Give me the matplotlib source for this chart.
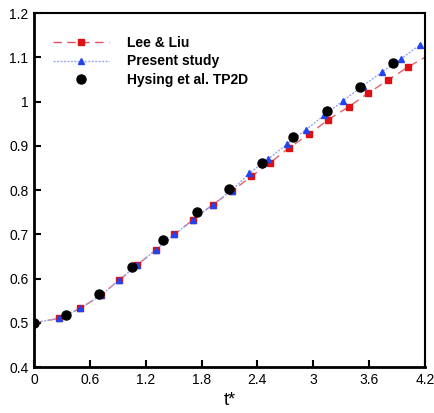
import matplotlib
matplotlib.use("Agg")
import matplotlib.pyplot as plt
from matplotlib.ticker import FuncFormatter

plt.rcParams['font.family'] = ['Liberation Sans', 'DejaVu Sans']

# Lee & Liu (line + square markers)
lee_line_t = [0.0, 0.265, 0.50, 0.716, 0.917, 1.11, 1.31, 1.507, 1.711, 1.919, 2.123,
              2.334, 2.54, 2.742, 2.954, 3.161, 3.38, 3.59, 3.80, 4.017, 4.2]
lee_line_v = [0.500, 0.510, 0.533, 0.562, 0.597, 0.631, 0.665, 0.700, 0.733, 0.767, 0.797,
              0.831, 0.862, 0.896, 0.926, 0.959, 0.988, 1.019, 1.048, 1.078, 1.100]
lee_t = lee_line_t[1:-1]
lee_v = lee_line_v[1:-1]

# Present study (line + triangle markers)
pres_line_t = [0.0, 0.265, 0.50, 0.716, 0.917, 1.11, 1.31, 1.507, 1.711, 1.919, 2.123,
               2.313, 2.515, 2.72, 2.918, 3.118, 3.322, 3.53, 3.734, 3.94, 4.146]
pres_line_v = [0.500, 0.510, 0.533, 0.562, 0.597, 0.631, 0.665, 0.700, 0.733, 0.767, 0.799,
               0.838, 0.870, 0.904, 0.936, 0.969, 1.002, 1.035, 1.066, 1.096, 1.128]
pres_t = pres_line_t[1:]
pres_v = pres_line_v[1:]

# Hysing et al. TP2D
hys_t = [0.0, 0.344, 0.70, 1.049, 1.389, 1.747, 2.091, 2.449, 2.785, 3.150, 3.502, 3.853]
hys_v = [0.500, 0.518, 0.565, 0.627, 0.687, 0.750, 0.802, 0.861, 0.919, 0.978, 1.033, 1.088]

x_ticks = [0, 0.6, 1.2, 1.8, 2.4, 3, 3.6, 4.2]
y_ticks = [0.4, 0.5, 0.6, 0.7, 0.8, 0.9, 1.0, 1.1, 1.2]

fig = plt.figure(figsize=(4.35, 4.13), dpi=100)
ax = fig.add_axes([0.078, 0.111, 0.899, 0.8575])

# lines
ax.plot(lee_line_t, lee_line_v, color='#e05060', lw=1.0, ls=(0, (6, 4)), alpha=0.9, zorder=2)
ax.plot(pres_line_t, pres_line_v, color='#9aa8ee', lw=1.0, ls=(0, (1.5, 1.0)), zorder=2)
# markers
ax.plot(lee_t, lee_v, ls='none', marker='s', ms=4.6, color='#dd1111', mec='#dd1111', zorder=3)
ax.plot(pres_t, pres_v, ls='none', marker='^', ms=5.0, color='#2244ee', mec='#2244ee', zorder=4)
ax.plot(hys_t, hys_v, ls='none', marker='o', ms=6.5, color='black', zorder=5)

# legend proxies
h1, = ax.plot([], [], color='#e05060', lw=1.0, ls=(0, (6, 4)), marker='s', ms=4.6,
              mfc='#dd1111', mec='#dd1111')
h2, = ax.plot([], [], color='#9aa8ee', lw=1.0, ls=(0, (1.5, 1.0)), marker='^', ms=5.0,
              mfc='#2244ee', mec='#2244ee')
h3, = ax.plot([], [], ls='none', marker='o', ms=6.5, color='black')
leg = ax.legend([h1, h2, h3], ['Lee & Liu', 'Present study', 'Hysing et al. TP2D'],
                loc='upper left', bbox_to_anchor=(0.035, 0.952), frameon=False,
                prop={'weight': 'bold', 'size': 10}, handlelength=4.0, numpoints=1,
                labelspacing=0.35, handletextpad=1.3, borderaxespad=0)

ax.set_xlim(0, 4.2)
ax.set_ylim(0.4, 1.2)
ax.set_xticks(x_ticks)
ax.set_yticks(y_ticks)
fmt = FuncFormatter(lambda v, p: '%g' % round(v, 2))
ax.xaxis.set_major_formatter(fmt)
ax.yaxis.set_major_formatter(fmt)
ax.tick_params(direction='in', length=5, width=1.5, labelsize=10, colors='black',
               top=False, right=False, pad=4)
for s in ['left', 'bottom']:
    ax.spines[s].set_linewidth(2.0)
for s in ['top', 'right']:
    ax.spines[s].set_linewidth(1.5)

ax.set_xlabel('t*', fontsize=13, labelpad=4)

fig.savefig('out.png', dpi=100)
